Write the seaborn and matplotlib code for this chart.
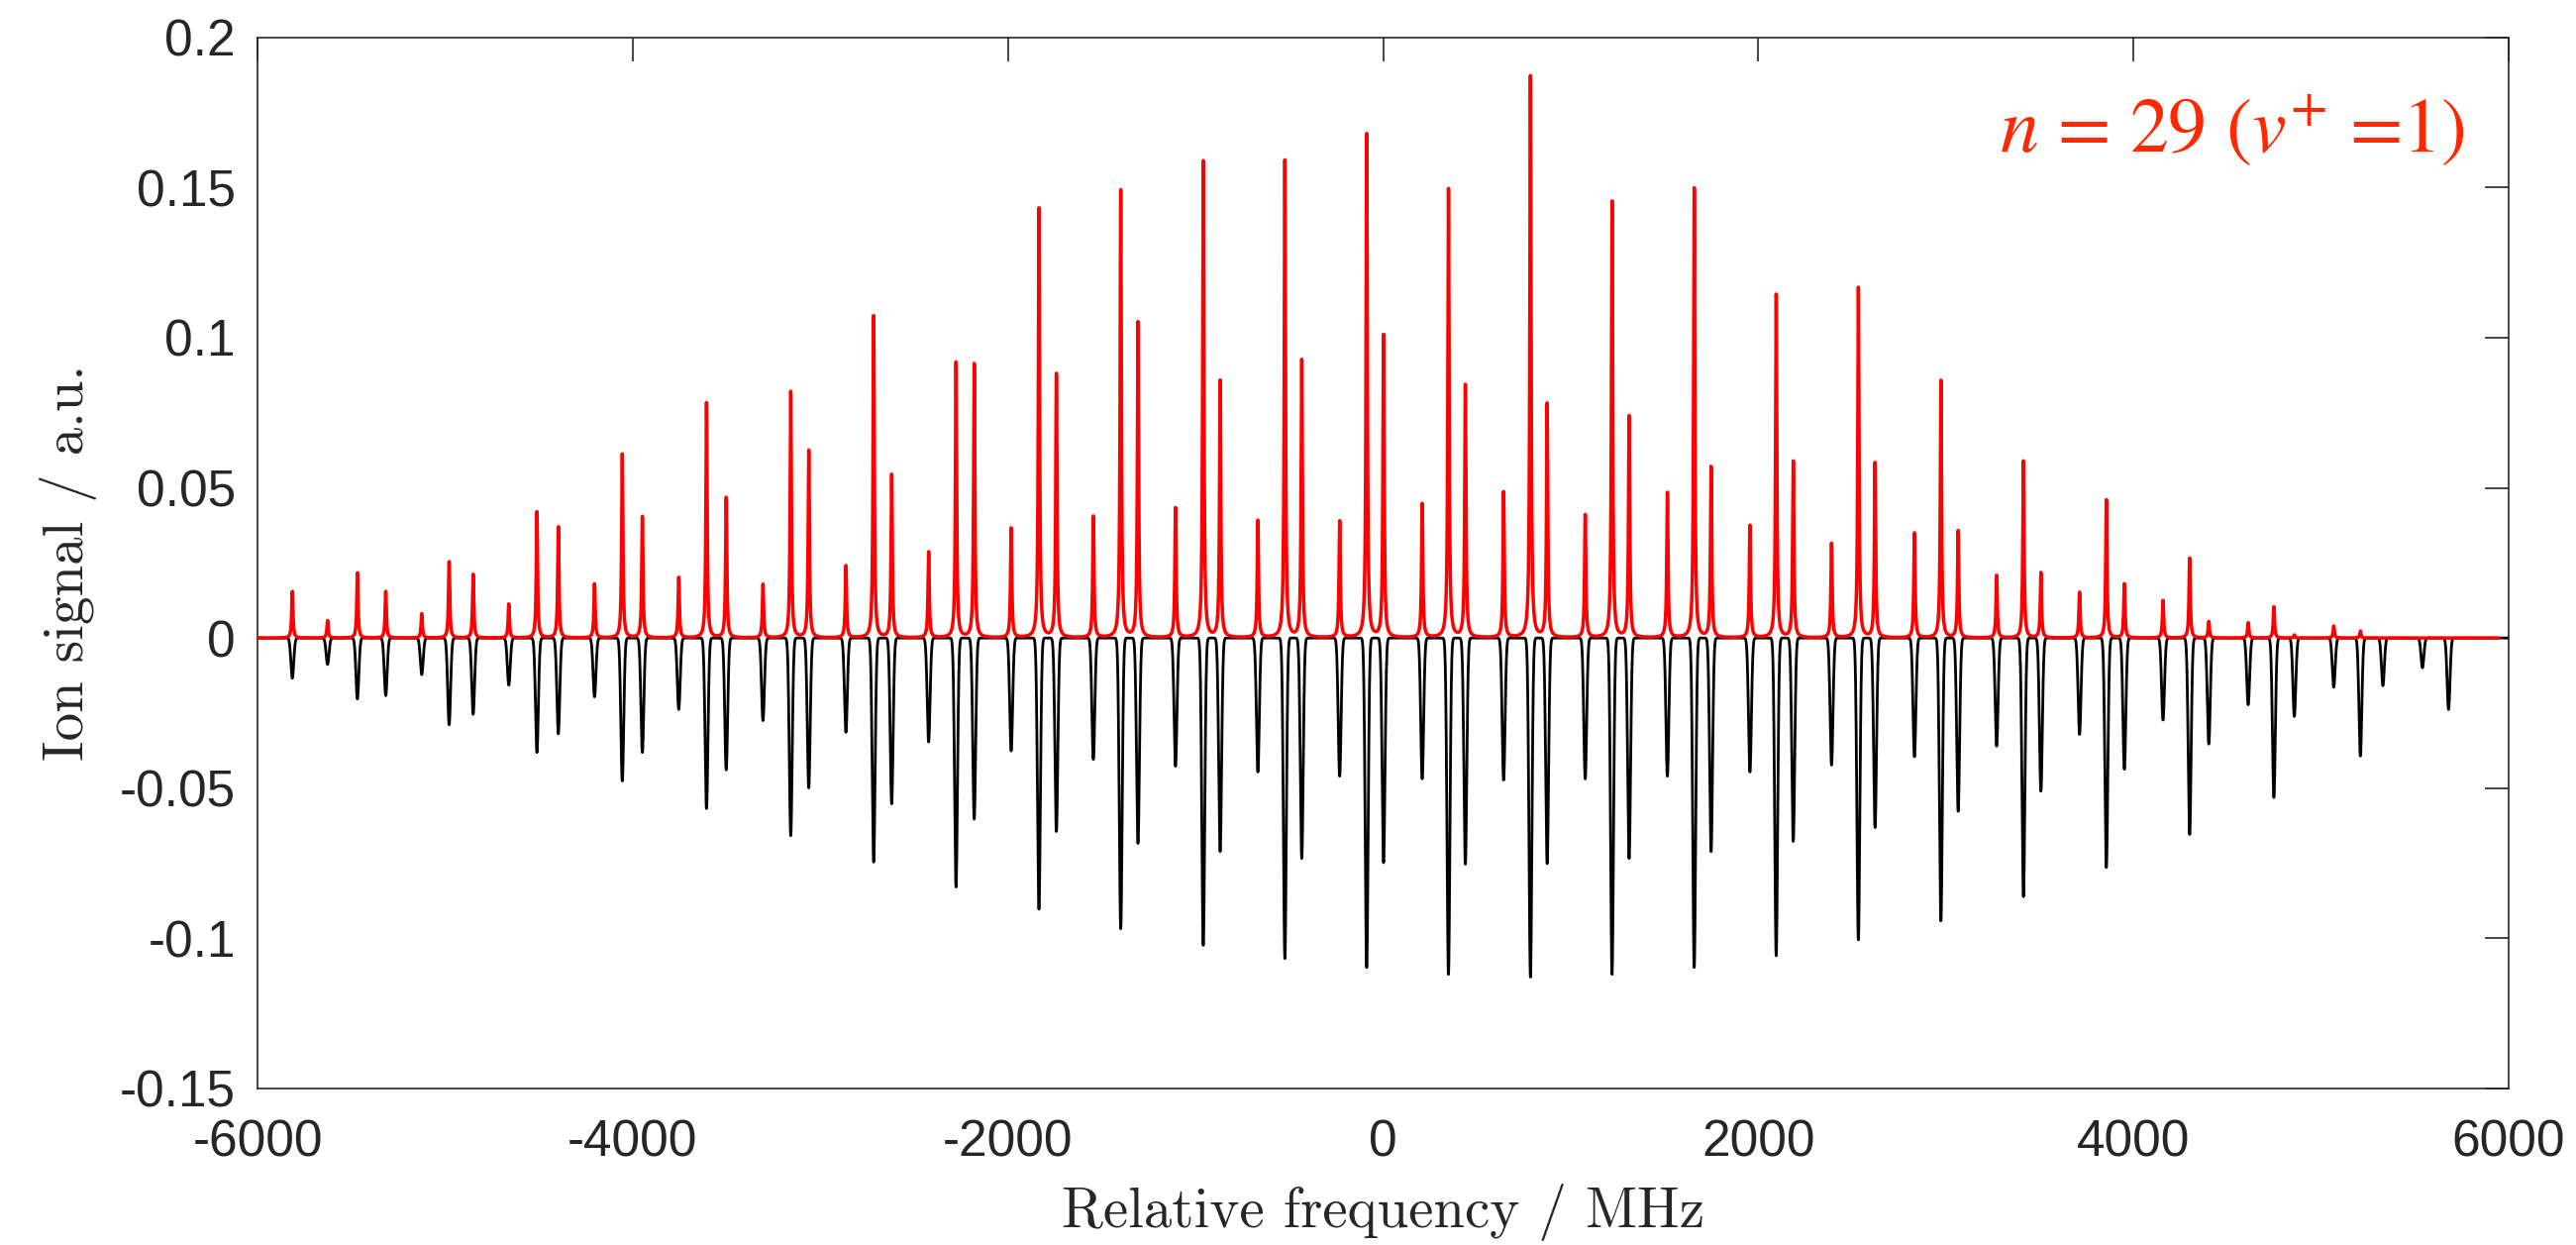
import numpy as np
import pandas as pd
import matplotlib
matplotlib.use("Agg")
import matplotlib.pyplot as plt
import seaborn as sns

# --------------------------
# Data
# --------------------------
# line centres (MHz)
peak_freq = [-5815, -5627, -5468, -5317, -5125, -4979, -4851, -4661, -4511, -4397,
             -4204, -4056, -3949, -3755, -3607, -3502, -3306, -3158, -3062, -2864,
             -2716, -2620, -2423, -2277, -2180, -1983, -1835, -1742, -1545, -1399,
             -1307, -1107, -959, -869, -668, -524, -434, -232, -88, 2,
             208, 348, 438, 642, 785, 874, 1077, 1220, 1311, 1515,
             1658, 1748, 1955, 2095, 2186, 2390, 2533, 2622, 2832, 2973,
             3065, 3270, 3413, 3506, 3712, 3855, 3951, 4157, 4299, 4401,
             4611, 4748, 4857, 5067, 5209, 5329, 5540, 5679]

# measured ion signal (red, upwards)
meas_height = [0.0155, 0.0058, 0.0217, 0.0155, 0.0081, 0.0254, 0.0212, 0.0113, 0.042, 0.037,
               0.018, 0.0612, 0.0404, 0.0201, 0.0783, 0.0467, 0.0178, 0.082, 0.0624, 0.024,
               0.1072, 0.0543, 0.0286, 0.0917, 0.0912, 0.0365, 0.143, 0.0878, 0.0404, 0.149,
               0.105, 0.0432, 0.1587, 0.0855, 0.039, 0.1589, 0.0924, 0.0388, 0.1677, 0.1007,
               0.0446, 0.1494, 0.0841, 0.0485, 0.187, 0.0778, 0.0409, 0.1453, 0.0737, 0.0483,
               0.1497, 0.0568, 0.0374, 0.1143, 0.0587, 0.0314, 0.1166, 0.0582, 0.0349, 0.0857,
               0.0356, 0.0208, 0.0589, 0.0217, 0.0152, 0.046, 0.018, 0.0125, 0.0266, 0.0055,
               0.0051, 0.0104, 0.001, 0.004, 0.0023, 0.0, 0.0, 0.0]

# simulated spectrum (black, drawn downwards)
sim_height = [-0.0134, -0.0088, -0.0203, -0.0192, -0.0122, -0.0289, -0.0254, -0.0157, -0.0381, -0.0319,
              -0.0196, -0.0476, -0.0381, -0.0238, -0.0568, -0.0439, -0.0275, -0.0658, -0.0499, -0.0314,
              -0.0746, -0.0552, -0.0346, -0.0829, -0.0603, -0.0376, -0.0903, -0.0644, -0.0404, -0.0968,
              -0.0684, -0.0427, -0.1023, -0.0711, -0.0446, -0.1067, -0.0734, -0.046, -0.1097, -0.0748,
              -0.0469, -0.112, -0.0753, -0.0473, -0.1129, -0.0751, -0.0469, -0.112, -0.0734, -0.046,
              -0.1097, -0.0711, -0.0446, -0.1058, -0.0677, -0.0423, -0.1005, -0.0631, -0.0395, -0.0942,
              -0.0577, -0.036, -0.0861, -0.051, -0.0321, -0.0764, -0.0437, -0.0273, -0.0654, -0.0353,
              -0.0222, -0.0531, -0.0261, -0.0164, -0.0393, -0.0159, -0.0099, -0.0238]

x_ticks = [-6000, -4000, -2000, 0, 2000, 4000, 6000]
x_ticklabels = ['-6000', '-4000', '-2000', '0', '2000', '4000', '6000']
y_ticks = [-0.15, -0.1, -0.05, 0, 0.05, 0.1, 0.15, 0.2]
y_ticklabels = ['-0.15', '-0.1', '-0.05', '0', '0.05', '0.1', '0.15', '0.2']

# --------------------------
# Line shapes built from the peak list
# --------------------------
def lorentz_sum(x, centres, heights, fwhm):
    hw = fwhm / 2.0
    y = np.zeros_like(x)
    for c, h in zip(centres, heights):
        y += h / (1.0 + ((x - c) / hw) ** 2)
    return y

def gauss_sum(x, centres, heights, fwhm):
    s = fwhm / 2.3548
    y = np.zeros_like(x)
    for c, h in zip(centres, heights):
        y += h * np.exp(-0.5 * ((x - c) / s) ** 2)
    return y

x_meas = np.arange(-6000, 5946.5, 0.5)
x_sim = np.arange(-6000, 6000.5, 1.0)
meas = pd.DataFrame({'freq': x_meas, 'signal': lorentz_sum(x_meas, peak_freq, meas_height, 8.0)})
sim = pd.DataFrame({'freq': x_sim, 'signal': gauss_sum(x_sim, peak_freq, sim_height, 18.0)})

# --------------------------
# Plot
# --------------------------
sns.set_theme(style="white")
plt.rcParams['font.family'] = ['Liberation Sans', 'DejaVu Sans']
plt.rcParams['mathtext.fontset'] = 'stix'

fig = plt.figure(figsize=(26.01, 12.57), dpi=100)
ax = fig.add_axes([0.1, 0.1257, 0.8739, 0.8443])

sns.lineplot(data=sim, x='freq', y='signal', color='black', linewidth=2.0,
             estimator=None, sort=False, ax=ax, zorder=2)
sns.lineplot(data=meas, x='freq', y='signal', color='#ff0000', linewidth=2.5,
             estimator=None, sort=False, ax=ax, zorder=3)

ax.set_xlim(-6000, 6000)
ax.set_ylim(-0.15, 0.2)
ax.set_xticks(x_ticks, labels=x_ticklabels)
ax.set_yticks(y_ticks, labels=y_ticklabels)

for sp in ax.spines.values():
    sp.set_color('#262626')
    sp.set_linewidth(1.2)
    sp.set_visible(True)
ax.tick_params(axis='both', which='both', direction='in', length=17, width=1.2,
               color='#262626', labelcolor='#262626', labelsize=37,
               top=True, right=True)
ax.tick_params(axis='y', pad=16)
ax.tick_params(axis='x', pad=22)

ax.set_xlabel('Relative frequency / MHz', fontfamily='cmr10', fontsize=41, color='#262626')
ax.set_ylabel('Ion signal / a.u.', fontfamily='cmr10', fontsize=41, color='#262626')
ax.xaxis.set_label_coords(0.5, -0.09)
ax.yaxis.set_label_coords(-0.0713, 0.5)

ax.text(0.9806, 0.891, r'$n$ = 29 ($v^{+}$ =1)', transform=ax.transAxes,
        ha='right', va='baseline', color='#ff2800', fontsize=56,
        fontfamily='STIXGeneral')

fig.savefig('out.png', dpi=100)
